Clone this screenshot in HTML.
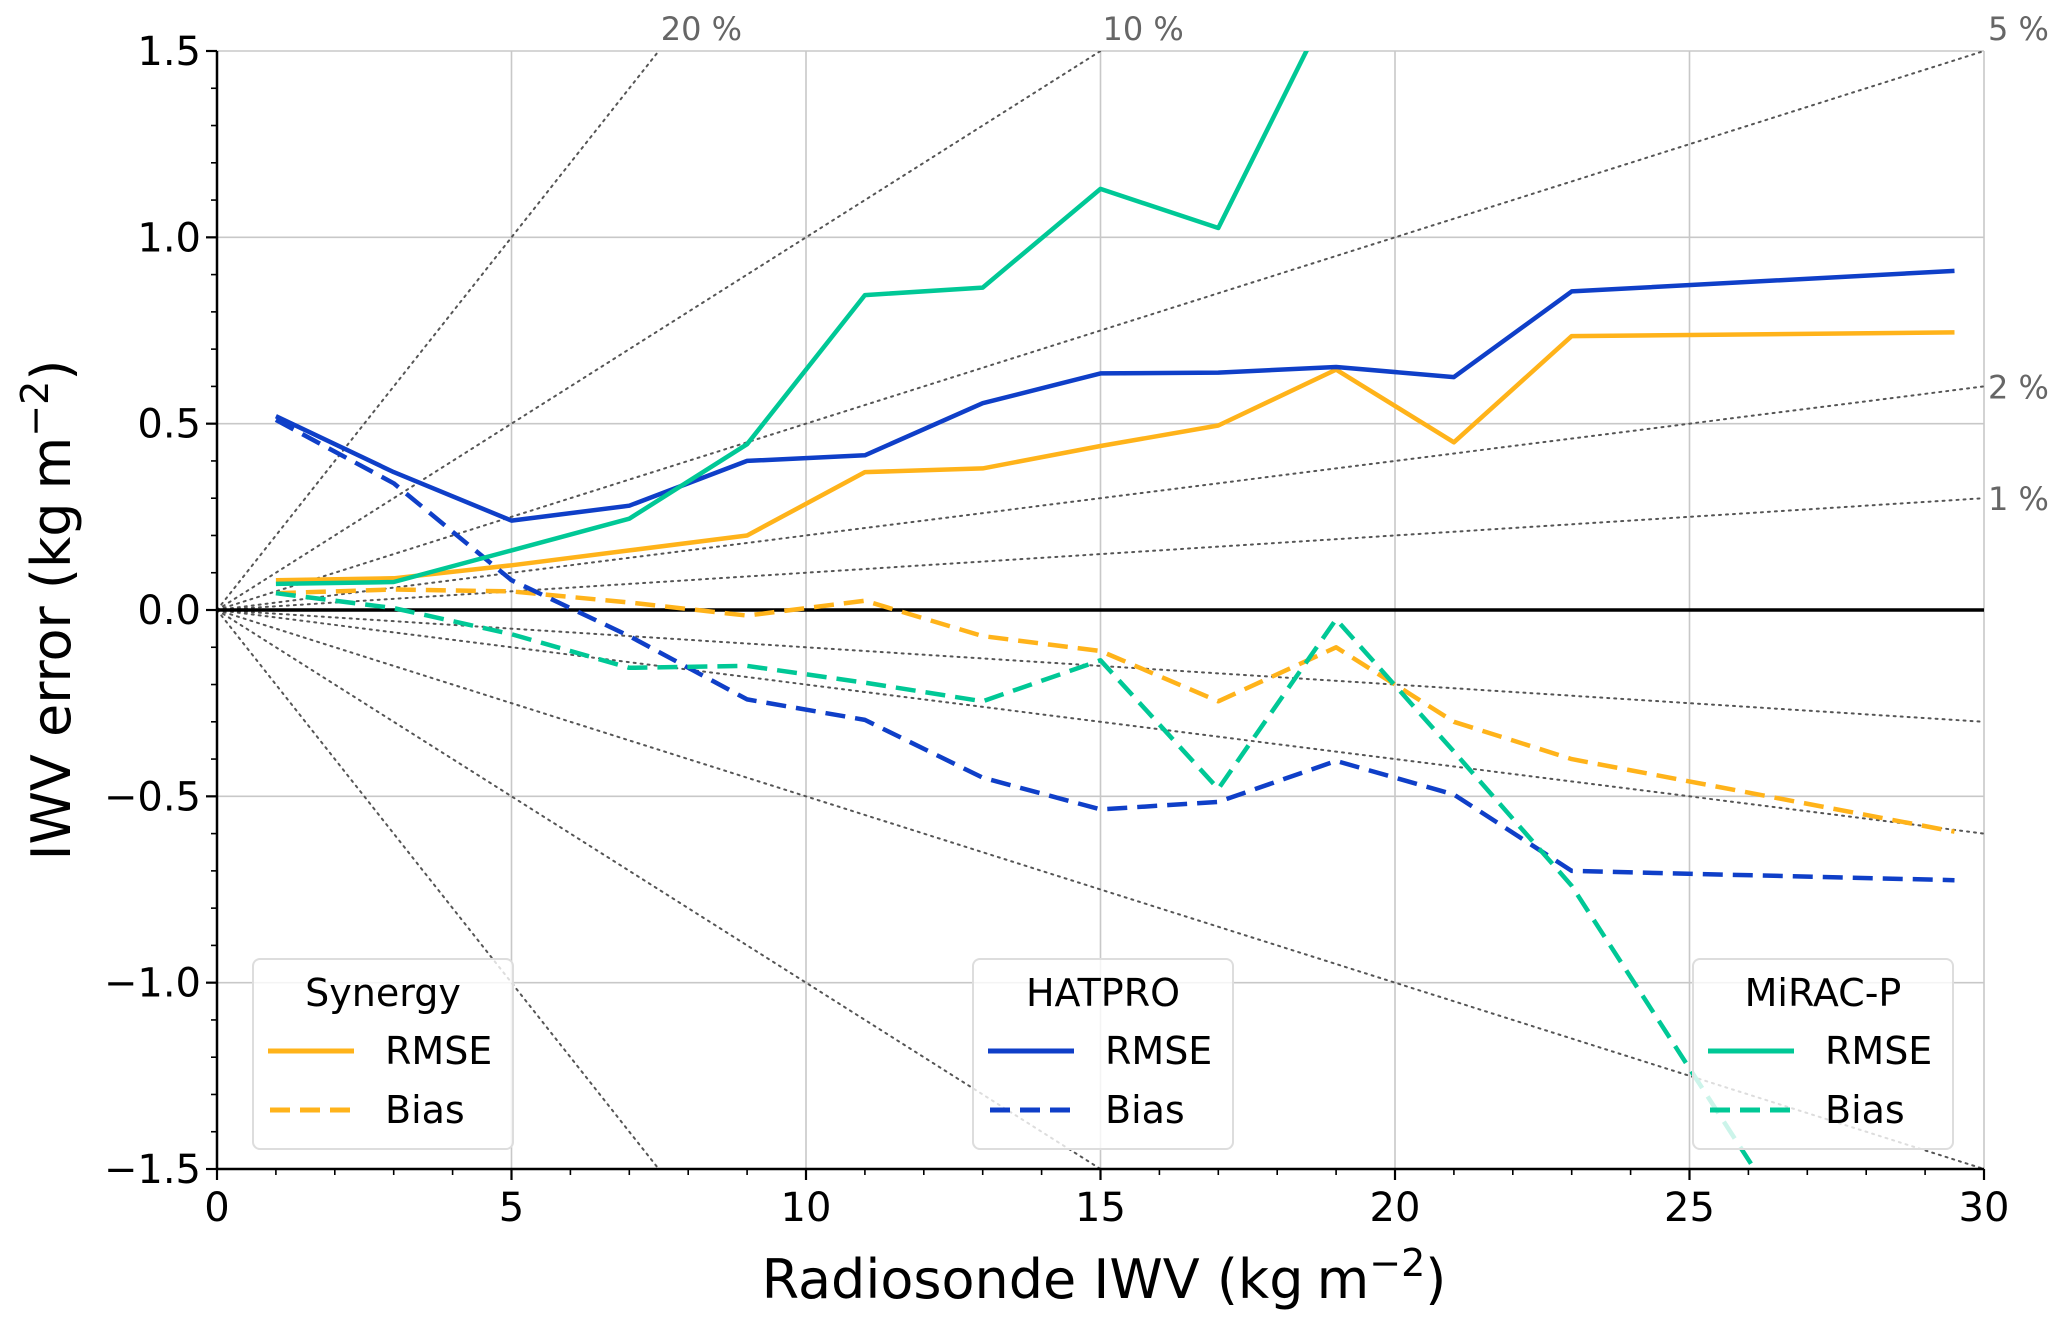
<!DOCTYPE html>
<html><head><meta charset="utf-8"><style>
html,body{margin:0;padding:0;background:#fff;overflow:hidden;width:2067px;height:1322px;}
svg{display:block;font-family:"DejaVu Sans","Liberation Sans",sans-serif;}
</style></head><body>
<svg id="chart" width="2067" height="1322" viewBox="0 0 2067 1322" xmlns="http://www.w3.org/2000/svg">
<defs><clipPath id="plotclip"><rect x="217" y="51" width="1767" height="1118"/></clipPath></defs>
<g id="grid"></g>
<g id="pct" clip-path="url(#plotclip)"></g>
<g id="pctlabels"></g>
<line x1="217" x2="1984" y1="610" y2="610" stroke="#000" stroke-width="3.5"/>
<g id="series" clip-path="url(#plotclip)"></g>
<g id="axes"></g>
<g id="legends"></g>
<text x="1104" y="1298" font-size="54" text-anchor="middle">Radiosonde IWV (kg<tspan dx="-4"> m</tspan><tspan dy="-22" font-size="38">−2</tspan><tspan dy="22">)</tspan></text>
<text transform="translate(70,610) rotate(-90)" font-size="54" text-anchor="middle">IWV error (kg<tspan dx="-4"> m</tspan><tspan dy="-22" font-size="38">−2</tspan><tspan dy="22">)</tspan></text>
</svg>
<script>
const xs = [1,3,5,7,9,11,13,15,17,19,21,23,29.5];
const synergyRmse = [0.08,0.085,0.12,0.16,0.2,0.37,0.38,0.44,0.495,0.645,0.45,0.735,0.745];
const synergyBias = [0.045,0.055,0.05,0.02,-0.015,0.025,-0.07,-0.11,-0.245,-0.1,-0.3,-0.4,-0.595];
const hatproRmse = [0.52,0.37,0.24,0.28,0.4,0.415,0.555,0.635,0.637,0.652,0.625,0.855,0.91];
const hatproBias = [0.51,0.34,0.08,-0.07,-0.24,-0.295,-0.45,-0.535,-0.515,-0.405,-0.495,-0.7,-0.725];
const miracXs = [1,3,5,7,9,11,13,15,17,19,21,23,25,27];
const miracRmse = [0.07,0.075,0.16,0.245,0.445,0.845,0.865,1.13,1.025,1.66,2.3,2.6,2.8,3.0];
const miracBias = [0.045,0.005,-0.065,-0.155,-0.15,-0.195,-0.245,-0.135,-0.48,-0.025,-0.38,-0.74,-1.23,-1.72];
const xTicks = [0,5,10,15,20,25,30];
const yTicks = [-1.5,-1.0,-0.5,0.0,0.5,1.0,1.5];
const yTickLabels = ["−1.5","−1.0","−0.5","0.0","0.5","1.0","1.5"];
const percents = [1,2,5,10,20];

const L=217,R=1984,T=51,B=1169;
const X=v=>L+(v-0)/30*(R-L);
const Y=v=>B-(v+1.5)/3*(B-T);
const NS="http://www.w3.org/2000/svg";
function mk(tag,attrs,parent){const e=document.createElementNS(NS,tag);for(const k in attrs)e.setAttribute(k,attrs[k]);parent.appendChild(e);return e;}
const grid=document.getElementById('grid'),axes=document.getElementById('axes');
xTicks.forEach(t=>{
  const g=mk('line',{x1:X(t),x2:X(t),y1:T,y2:B,stroke:'#c8c8c8','stroke-width':1.6},grid);
  
  
  const tk=mk('line',{x1:X(t),x2:X(t),y1:B,y2:B+11,stroke:'#000','stroke-width':2.2},axes);
  
  
  const lb=mk('text',{x:X(t),y:B+52,'font-size':40,'text-anchor':'middle'},axes);lb.textContent=t;
  
  
});
for(let i=0;i<=30;i++){if(i%5)mk('line',{x1:X(i),x2:X(i),y1:B,y2:B+6,stroke:'#000','stroke-width':1.6},axes);}
yTicks.forEach((t,i)=>{
  const g=mk('line',{x1:L,x2:R,y1:Y(t),y2:Y(t),stroke:'#c8c8c8','stroke-width':1.6},grid);
  
  
  const tk=mk('line',{x1:L-11,x2:L,y1:Y(t),y2:Y(t),stroke:'#000','stroke-width':2.2},axes);
  
  
  const lb=mk('text',{x:L-16,y:Y(t)+14,'font-size':40,'text-anchor':'end'},axes);lb.textContent=yTickLabels[i];
  
  
});
for(let i=-15;i<=15;i++){if(i%5)mk('line',{x1:L-6,x2:L,y1:Y(i/10),y2:Y(i/10),stroke:'#000','stroke-width':1.6},axes);}
mk('line',{x1:L,x2:L,y1:T,y2:B+1,stroke:'#000','stroke-width':2.5},axes);
mk('line',{x1:L-1,x2:R,y1:B,y2:B,stroke:'#000','stroke-width':2.5},axes);

const pct=document.getElementById('pct'),pl=document.getElementById('pctlabels');
percents.forEach(p=>{
  [1,-1].forEach(s=>{
    const ln=mk('line',{x1:X(0),y1:Y(0),x2:X(30),y2:Y(s*p/100*30),stroke:'#555','stroke-width':2,'stroke-dasharray':'2,5','stroke-linecap':'round'},pct);
    
    
  });
  const xe=Math.min(30,1.5/(p/100)), ye=p/100*xe;
  let lx,ly;
  if(xe<30){lx=X(xe)+2;ly=T-11;}else if(ye>=1.49){lx=X(30)+4;ly=T-11;}else{lx=X(30)+4;ly=Y(ye)+12;}
  const t=mk('text',{x:lx,y:ly,'font-size':32,fill:'#666'},pl);t.textContent=p+' %';
  
  
});

const series=document.getElementById('series');
function line(xv,yv,color,dash,name){
  const d=xv.map((x,i)=>(i?'L':'M')+X(x).toFixed(1)+','+Y(yv[i]).toFixed(1)).join(' ');
  const p=mk('path',{d:d,fill:'none',stroke:color,'stroke-width':4.5,'stroke-linejoin':'round'},series);
  if(dash)p.setAttribute('stroke-dasharray','20,10');
  
  
}
const cS='#ffb31a',cH='#0f3fc8',cM='#00c896';
line(xs,synergyRmse,cS,false,'synergy-rmse-line');
line(xs,synergyBias,cS,true,'synergy-bias-line');
line(xs,hatproRmse,cH,false,'hatpro-rmse-line');
line(xs,hatproBias,cH,true,'hatpro-bias-line');
line(miracXs,miracRmse,cM,false,'mirac-rmse-line');
line(miracXs,miracBias,cM,true,'mirac-bias-line');

const lg=document.getElementById('legends');
[['Synergy',253,cS],['HATPRO',973,cH],['MiRAC-P',1693,cM]].forEach(([title,x0,c])=>{
  const g=mk('g',{},lg);
  
  
  mk('rect',{x:x0,y:959,width:260,height:190,rx:7,fill:'#fff','fill-opacity':0.8,stroke:'#ddd','stroke-width':2},g);
  const tt=mk('text',{x:x0+130,y:1006,'font-size':38,'text-anchor':'middle'},g);tt.textContent=title;
  mk('line',{x1:x0+15,x2:x0+101,y1:1051,y2:1051,stroke:c,'stroke-width':5},g);
  mk('line',{x1:x0+17,x2:x0+101,y1:1110,y2:1110,stroke:c,'stroke-width':5,'stroke-dasharray':'20,10'},g);
  const r=mk('text',{x:x0+132,y:1064,'font-size':38},g);r.textContent='RMSE';
  const b=mk('text',{x:x0+132,y:1123,'font-size':38},g);b.textContent='Bias';
});
</script>
</body></html>
